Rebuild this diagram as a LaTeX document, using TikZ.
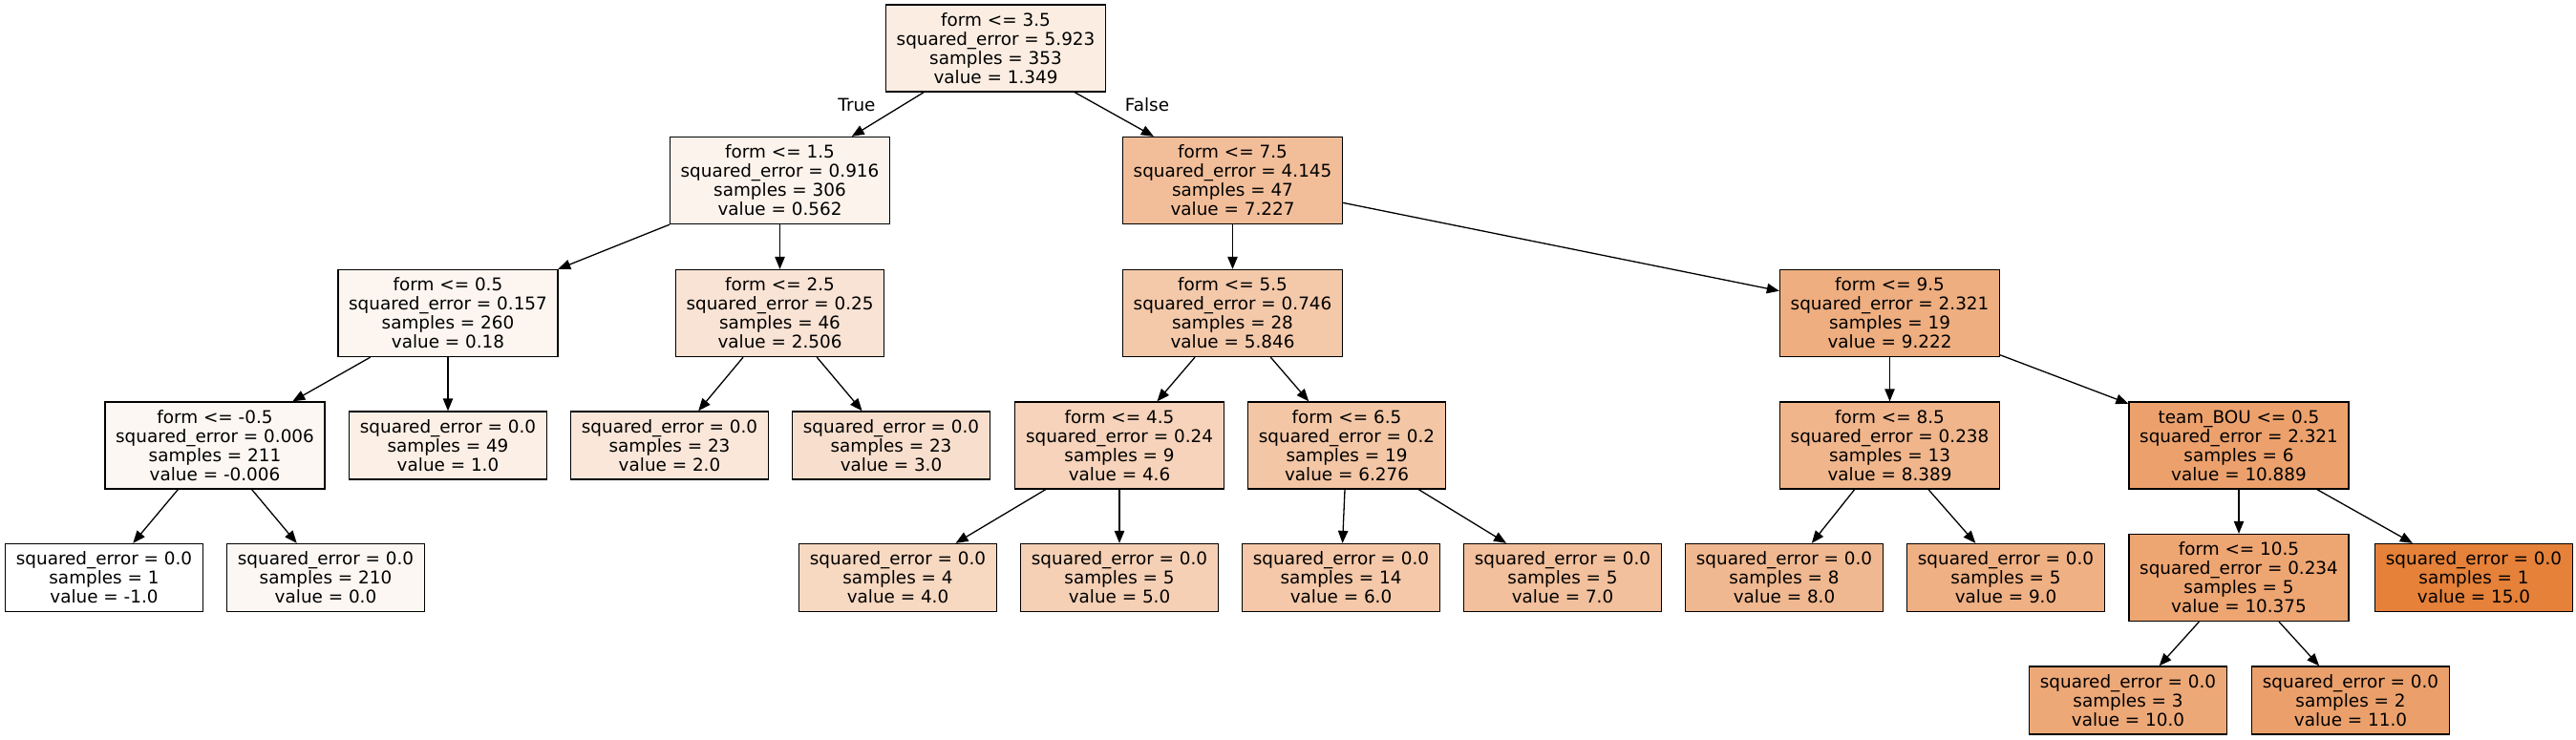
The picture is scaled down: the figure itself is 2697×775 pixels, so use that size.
\documentclass[tikz,border=0pt]{standalone}
\usepackage{fontspec}
\setmainfont{DejaVu Sans}
\usetikzlibrary{arrows.meta}
\definecolor{treeorange}{RGB}{229,129,57}

\begin{document}
\begin{tikzpicture}[x=0.5pt, y=-0.5pt,
		font=\fontsize{9.19pt}{10pt}\selectfont,
		treebox/.style={draw, line width=0.65pt, fill=treeorange!#1!white, align=center,
			inner xsep=5.6pt, inner ysep=0pt, minimum height=45.5pt},
		leafbox/.style={treebox=#1, minimum height=35.5pt},
		branch/.style={-{Triangle[length=6.5pt, width=5.2pt]}, line width=0.65pt}]
		\useasboundingbox (0, 0) rectangle (2697, 775);

		% 根ノードを描画
		\node[treebox=14.68] (split35) at (1042.5, 50.5) {form <= 3.5\\squared\_error = 5.923\\samples = 353\\value = 1.349};

		% 2段目
		\node[treebox=9.76] (split15) at (816.5, 189) {form <= 1.5\\squared\_error = 0.916\\samples = 306\\value = 0.562};
		\node[treebox=51.42] (split75) at (1290.5, 189) {form <= 7.5\\squared\_error = 4.145\\samples = 47\\value = 7.227};

		% 3段目
		\node[treebox=7.38] (split05) at (469, 328) {form <= 0.5\\squared\_error = 0.157\\samples = 260\\value = 0.18};
		\node[treebox=21.91] (split25) at (816.5, 328) {form <= 2.5\\squared\_error = 0.25\\samples = 46\\value = 2.506};
		\node[treebox=42.79] (split55) at (1290.5, 328) {form <= 5.5\\squared\_error = 0.746\\samples = 28\\value = 5.846};
		\node[treebox=63.89] (split95) at (1978.5, 328) {form <= 9.5\\squared\_error = 2.321\\samples = 19\\value = 9.222};

		% 4段目
		\node[treebox=6.21] (splitm05) at (225, 466.5) {form <= -0.5\\squared\_error = 0.006\\samples = 211\\value = -0.006};
		\node[leafbox=12.5] (leaf10) at (469, 466.5) {squared\_error = 0.0\\samples = 49\\value = 1.0};
		\node[leafbox=18.75] (leaf20) at (701, 466.5) {squared\_error = 0.0\\samples = 23\\value = 2.0};
		\node[leafbox=25] (leaf30) at (933, 466.5) {squared\_error = 0.0\\samples = 23\\value = 3.0};
		\node[treebox=35] (split45) at (1172, 466.5) {form <= 4.5\\squared\_error = 0.24\\samples = 9\\value = 4.6};
		\node[treebox=45.48] (split65) at (1410, 466.5) {form <= 6.5\\squared\_error = 0.2\\samples = 19\\value = 6.276};
		\node[treebox=58.68] (split85) at (1978.5, 466.5) {form <= 8.5\\squared\_error = 0.238\\samples = 13\\value = 8.389};
		\node[treebox=74.31] (splitbou) at (2344, 466.5) {team\_BOU <= 0.5\\squared\_error = 2.321\\samples = 6\\value = 10.889};

		% 5段目
		\node[leafbox=0] (leafm10) at (109, 605) {squared\_error = 0.0\\samples = 1\\value = -1.0};
		\node[leafbox=6.25] (leaf00) at (341, 605) {squared\_error = 0.0\\samples = 210\\value = 0.0};
		\node[leafbox=31.25] (leaf40) at (940, 605) {squared\_error = 0.0\\samples = 4\\value = 4.0};
		\node[leafbox=37.5] (leaf50) at (1172, 605) {squared\_error = 0.0\\samples = 5\\value = 5.0};
		\node[leafbox=43.75] (leaf60) at (1404, 605) {squared\_error = 0.0\\samples = 14\\value = 6.0};
		\node[leafbox=50] (leaf70) at (1636, 605) {squared\_error = 0.0\\samples = 5\\value = 7.0};
		\node[leafbox=56.25] (leaf80) at (1868, 605) {squared\_error = 0.0\\samples = 8\\value = 8.0};
		\node[leafbox=62.5] (leaf90) at (2100, 605) {squared\_error = 0.0\\samples = 5\\value = 9.0};
		\node[treebox=71.09] (split105) at (2344, 605) {form <= 10.5\\squared\_error = 0.234\\samples = 5\\value = 10.375};
		\node[leafbox=100] (leaf150) at (2590, 605) {squared\_error = 0.0\\samples = 1\\value = 15.0};

		% 6段目
		\node[leafbox=68.75] (leaf100) at (2228, 733.5) {squared\_error = 0.0\\samples = 3\\value = 10.0};
		\node[leafbox=75] (leaf110) at (2461, 733.5) {squared\_error = 0.0\\samples = 2\\value = 11.0};

		% 枝を描画
		\draw[branch] (split35) -- (split15);
		\draw[branch] (split35) -- (split75);
		\node[inner sep=0pt] (lbltrue) at (897, 110) {True};
		\node[inner sep=0pt] (lblfalse) at (1201, 110) {False};

		\draw[branch] (split15) -- (split05);
		\draw[branch] (split15) -- (split25);
		\draw[branch] (split05) -- (splitm05);
		\draw[branch] (split05) -- (leaf10);
		\draw[branch] (splitm05) -- (leafm10);
		\draw[branch] (splitm05) -- (leaf00);
		\draw[branch] (split25) -- (leaf20);
		\draw[branch] (split25) -- (leaf30);

		\draw[branch] (split75) -- (split55);
		\draw[branch] (split75) -- (split95);
		\draw[branch] (split55) -- (split45);
		\draw[branch] (split55) -- (split65);
		\draw[branch] (split45) -- (leaf40);
		\draw[branch] (split45) -- (leaf50);
		\draw[branch] (split65) -- (leaf60);
		\draw[branch] (split65) -- (leaf70);

		\draw[branch] (split95) -- (split85);
		\draw[branch] (split95) -- (splitbou);
		\draw[branch] (split85) -- (leaf80);
		\draw[branch] (split85) -- (leaf90);
		\draw[branch] (splitbou) -- (split105);
		\draw[branch] (splitbou) -- (leaf150);
		\draw[branch] (split105) -- (leaf100);
		\draw[branch] (split105) -- (leaf110);
	\end{tikzpicture}
\end{document}
